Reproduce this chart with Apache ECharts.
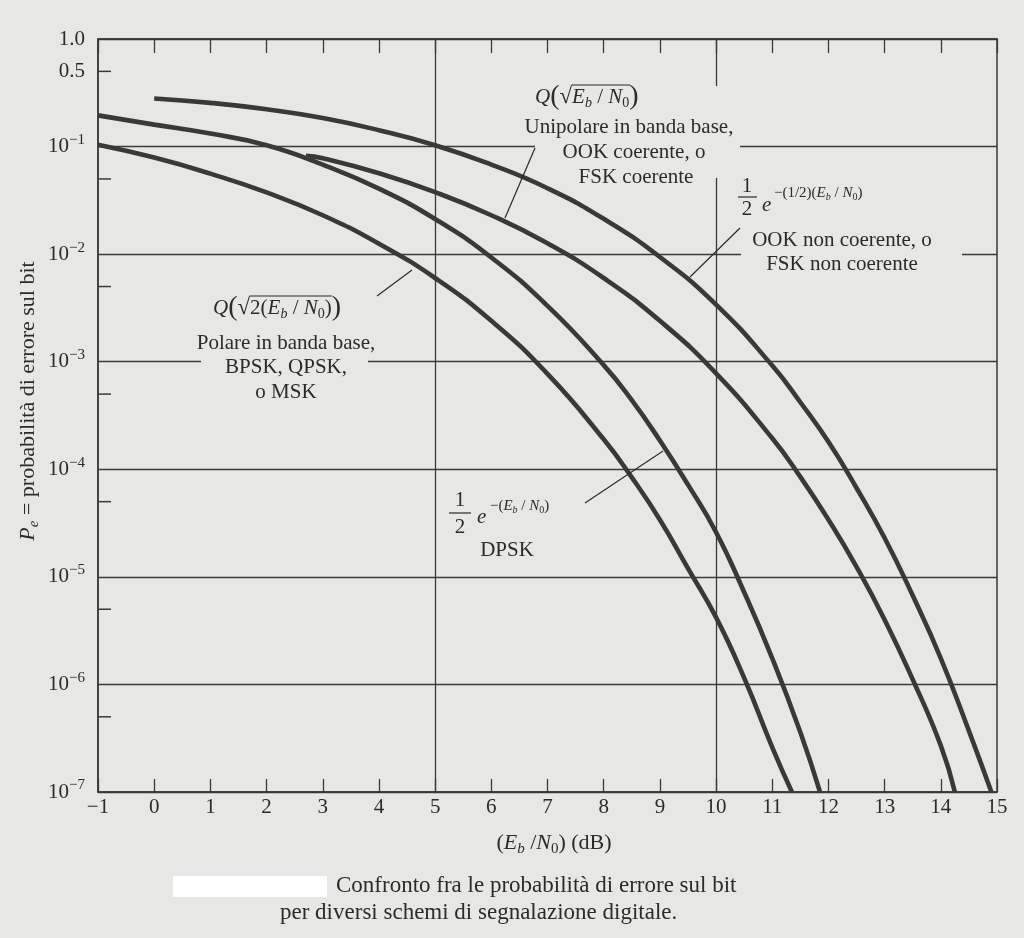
<!DOCTYPE html>
<html>
<head>
<meta charset="utf-8">
<script src="https://cdn.jsdelivr.net/npm/echarts@6/dist/echarts.min.js"></script>
<style>
html,body{margin:0;padding:0;background:#e7e7e5;}
#chart{width:1024px;height:938px;}
</style>
</head>
<body>
<div id="chart"></div>
<script>
// ---------------- DATA ----------------
// Eb/N0 in dB and bit error probability for each signalling scheme
const ebnoPolar = [-1, 0, 1, 2, 3, 4, 5, 6, 7, 8, 8.5, 9, 9.5, 10, 10.5, 11, 11.35];
const pePolar   = [0.104, 0.079, 0.056, 0.0375, 0.023, 0.0125, 0.006, 0.0024, 7.7e-4, 1.9e-4, 8.4e-5, 3.4e-5, 1.2e-5, 4.2e-6, 1.15e-6, 2.6e-7, 1.0e-7];

const ebnoDpsk = [-1, 0, 1, 2, 3, 4, 5, 6, 7, 8, 8.5, 9, 9.5, 10, 10.5, 11, 11.5, 11.85];
const peDpsk   = [0.195, 0.16, 0.132, 0.103, 0.068, 0.0406, 0.0212, 0.0093, 0.0033, 9.3e-4, 4.4e-4, 1.85e-4, 7.2e-5, 2.6e-5, 7.2e-6, 1.75e-6, 3.6e-7, 1.0e-7];

const ebnoOokCoh = [2.7, 3, 4, 5, 6, 7, 8, 9, 10, 11, 11.5, 12, 12.5, 13, 13.5, 14, 14.25];
const peOokCoh   = [0.082, 0.078, 0.0565, 0.0377, 0.023, 0.0126, 0.006, 0.0024, 7.8e-4, 1.94e-4, 8.5e-5, 3.4e-5, 1.24e-5, 4.0e-6, 1.11e-6, 2.7e-7, 1.0e-7];

const ebnoFskNc = [0, 1, 2, 3, 4, 5, 6, 7, 8, 9, 10, 11, 11.5, 12, 12.5, 13, 13.5, 14, 14.5, 14.9];
const peFskNc   = [0.28, 0.255, 0.222, 0.184, 0.142, 0.103, 0.068, 0.041, 0.0213, 0.0094, 0.0034, 9.2e-4, 4.2e-4, 1.8e-4, 6.7e-5, 2.3e-5, 6.7e-6, 1.75e-6, 3.7e-7, 1.0e-7];

// axis ranges and extra ticks
const xMin = -1, xMax = 15, xStep = 1;
const yMin = 1e-7, yMax = 1;
const minorTickValues = [0.5, 0.05, 0.005, 5e-4, 5e-5, 5e-6, 5e-7];
const extraTickLabel = '0.5';
const verticalGridAt = [5, 10];

// ---------------- STYLE ----------------
const FONT = "'Liberation Serif','DejaVu Serif','Times New Roman',serif";
const INK = '#2b2b29';
const GRID = '#3a3a38';
const CURVE = '#3a3a35';
const PAPER = '#e7e7e5';
const FS = 21;      // annotation font size
const TICKFS = 21;  // tick label font size

function pairs(xs, ys) { return xs.map((x, i) => [x, ys[i]]); }

function richSet(base) {
  const sub = Math.round(base * 0.68);
  return {
    r:  {fontFamily: FONT, fontSize: base, fill: INK},
    i:  {fontFamily: FONT, fontSize: base, fontStyle: 'italic', fill: INK},
    sb: {fontFamily: FONT, fontSize: sub, fontStyle: 'italic', fill: INK, padding: [Math.round(base*0.55), 0, 0, 0]},
    s0: {fontFamily: FONT, fontSize: sub, fill: INK, padding: [Math.round(base*0.55), 0, 0, 0]},
    big:{fontFamily: FONT, fontSize: Math.round(base * 1.35), fill: INK},
    rad:{fontFamily: FONT, fontSize: Math.round(base * 1.1), fill: INK}
  };
}

function txt(x, y, text, extra) {
  return {
    type: 'text', x: x, y: y, z: 100, silent: true,
    style: Object.assign({
      text: text, fill: INK, font: FS + 'px ' + FONT,
      textAlign: 'center', textVerticalAlign: 'middle'
    }, extra || {})
  };
}
function rich(x, y, text, base, align) {
  return {
    type: 'text', x: x, y: y, z: 100, silent: true,
    style: {text: text, rich: richSet(base), fill: INK, fontFamily: FONT, fontSize: base,
            textAlign: align || 'left', textVerticalAlign: 'middle'}
  };
}
function seg(x1, y1, x2, y2, w) {
  return {type: 'line', z: 100, silent: true,
          shape: {x1: x1, y1: y1, x2: x2, y2: y2},
          style: {stroke: INK, lineWidth: w || 1.2}};
}
function cover(x, y, w, h) {
  return {type: 'rect', z: 50, silent: true,
          shape: {x: x, y: y, width: w, height: h},
          style: {fill: PAPER}};
}

const curveStyle = {color: CURVE, width: 4.6};
function curve(name, xs, ys) {
  return {
    name: name, type: 'line', data: pairs(xs, ys),
    showSymbol: false, symbol: 'none', smooth: true,
    lineStyle: curveStyle, z: 20, silent: true, animation: false
  };
}

const chart = echarts.init(document.getElementById('chart'), null, {renderer: 'canvas'});

const option = {
  backgroundColor: PAPER,
  animation: false,
  grid: {left: 98, right: 27, top: 39, bottom: 146, show: true,
         borderColor: GRID, borderWidth: 1.5, backgroundColor: 'transparent'},
  xAxis: [{
    type: 'value', min: xMin, max: xMax, interval: xStep, position: 'bottom',
    axisLine: {show: true, onZero: false, lineStyle: {color: GRID, width: 1.5}},
    axisTick: {show: true, inside: true, length: 13, lineStyle: {color: GRID, width: 1.3}},
    splitLine: {show: false},
    axisLabel: {color: INK, fontFamily: FONT, fontSize: TICKFS, margin: 5,
      formatter: v => (v < 0 ? '\u2212' + Math.abs(v) : String(v))}
  }, {
    type: 'value', min: xMin, max: xMax, interval: xStep, position: 'top',
    axisLine: {show: true, onZero: false, lineStyle: {color: GRID, width: 1.5}},
    axisTick: {show: true, inside: true, length: 14, lineStyle: {color: GRID, width: 1.3}},
    splitLine: {show: false},
    axisLabel: {show: false}
  }],
  yAxis: {
    type: 'log', logBase: 10, min: yMin, max: yMax,
    axisLine: {show: true, onZero: false, lineStyle: {color: GRID, width: 1.5}},
    axisTick: {show: false},
    splitLine: {show: true, lineStyle: {color: GRID, width: 1.3}},
    axisLabel: {
      color: INK, fontFamily: FONT, fontSize: TICKFS, margin: 13,
      formatter: function (v) {
        if (v >= 0.999) return '{m|1.0}';
        const e = Math.round(Math.log10(v));
        return '{m|10}{s|\u2212' + Math.abs(e) + '}';
      },
      rich: {
        m: {fontFamily: FONT, fontSize: TICKFS, color: INK},
        s: {fontFamily: FONT, fontSize: 15, color: INK, padding: [0, 0, 13, 0]}
      }
    }
  },
  series: [
    {
      name: 'ticks', type: 'scatter', silent: true, clip: false, z: 5,
      symbol: 'rect', symbolSize: [13, 1.5], symbolOffset: [6.5, 0],
      itemStyle: {color: GRID, opacity: 1},
      data: minorTickValues.map((v, i) => i === 0
        ? {value: [xMin, v], label: {show: true, position: 'left', distance: 13, formatter: extraTickLabel,
            color: INK, opacity: 1, fontFamily: FONT, fontSize: TICKFS}}
        : {value: [xMin, v]}),
      markLine: {
        silent: true, symbol: 'none', animation: false,
        label: {show: false},
        lineStyle: {type: 'solid', color: GRID, width: 1.3, opacity: 1},
        data: verticalGridAt.map(v => ({xAxis: v}))
      }
    },
    curve('Q(sqrt(2Eb/N0)) polare / BPSK', ebnoPolar, pePolar),
    curve('DPSK', ebnoDpsk, peDpsk),
    curve('Q(sqrt(Eb/N0)) OOK coerente', ebnoOokCoh, peOokCoh),
    curve('OOK / FSK non coerente', ebnoFskNc, peFskNc)
  ],
  graphic: [
    // paper-coloured gaps in grid lines behind the annotations
    cover(535, 86, 205, 92),
    cover(741, 178, 221, 95),
    cover(201, 290, 167, 110),

    // --- Unipolar / OOK coherent ---
    rich(535, 97, '{i|Q}{big|(}{rad|\u221A}{i|E}{sb|b}{r| / }{i|N}{s0|0}{big|)}', 21, 'left'),
    seg(572, 85, 630, 85, 1.2),
    txt(629, 127, 'Unipolare in banda base,'),
    txt(634, 152, 'OOK coerente, o'),
    txt(636, 177, 'FSK coerente'),
    seg(535, 148, 505, 218),

    // --- OOK / FSK non coherent ---
    txt(747, 186, '1'),
    seg(738, 197, 757, 197, 1.2),
    txt(747, 209, '2'),
    txt(762, 205, 'e', {textAlign: 'left', font: 'italic ' + FS + 'px ' + FONT}),
    rich(774, 193, '{r|\u2212(1/2)(}{i|E}{sb|b}{r| / }{i|N}{s0|0}{r|)}', 15, 'left'),
    txt(842, 240, 'OOK non coerente, o'),
    txt(842, 264, 'FSK non coerente'),
    seg(740, 228, 690, 277),

    // --- Polar / BPSK ---
    rich(213, 308, '{i|Q}{big|(}{rad|\u221A}{r|2(}{i|E}{sb|b}{r| / }{i|N}{s0|0}{r|)}{big|)}', 21, 'left'),
    seg(250, 296, 332, 296, 1.2),
    txt(286, 343, 'Polare in banda base,'),
    txt(286, 367, 'BPSK, QPSK,'),
    txt(286, 392, 'o MSK'),
    seg(377, 296, 412, 270),

    // --- DPSK ---
    txt(460, 500, '1'),
    seg(449, 513, 471, 513, 1.2),
    txt(460, 527, '2'),
    txt(477, 517, 'e', {textAlign: 'left', font: 'italic ' + FS + 'px ' + FONT}),
    rich(490, 506, '{r|\u2212(}{i|E}{sb|b}{r| / }{i|N}{s0|0}{r|)}', 15, 'left'),
    txt(507, 550, 'DPSK'),
    seg(585, 503, 663, 451),

    // axis names
    rich(554, 843, '{r|(}{i|E}{sb|b}{r| /}{i|N}{s0|0}{r|) (dB)}', 22, 'center'),
    Object.assign(rich(28, 401, '{i|P}{sb|e}{r| = probabilit\u00e0 di errore sul bit}', 22, 'center'), {rotation: Math.PI / 2}),

    // caption
    {type: 'rect', z: 60, silent: true, shape: {x: 173, y: 876, width: 154, height: 21}, style: {fill: '#ffffff'}},
    txt(336, 886, 'Confronto fra le probabilit\u00e0 di errore sul bit', {textAlign: 'left', font: '23px ' + FONT}),
    txt(280, 913, 'per diversi schemi di segnalazione digitale.', {textAlign: 'left', font: '23px ' + FONT})
  ]
};

chart.setOption(option);
</script>
</body>
</html>
